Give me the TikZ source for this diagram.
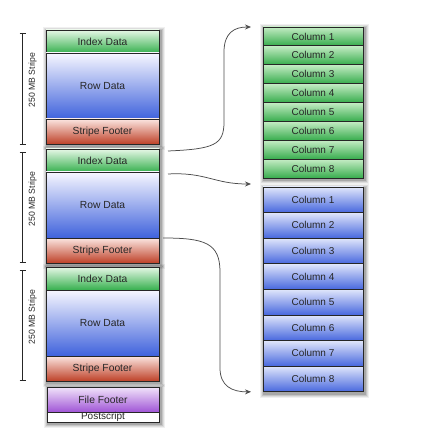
\documentclass[tikz,border=0pt]{standalone}
\usepackage{fontspec}
\setmainfont{Liberation Sans}
\usetikzlibrary{calc,arrows.meta,backgrounds}
\definecolor{idxT}{HTML}{E6F7E6}
\definecolor{idxB}{HTML}{36B04E}
\definecolor{rowT}{HTML}{F7F7FF}
\definecolor{rowB}{HTML}{3F62DC}
\definecolor{ftT}{HTML}{FBE5E0}
\definecolor{ftB}{HTML}{BE4128}
\definecolor{ffT}{HTML}{F1E4FA}
\definecolor{ffB}{HTML}{A055D6}
\definecolor{gcT}{HTML}{C4ECC4}
\definecolor{gcB}{HTML}{36AC4C}
\definecolor{bcT}{HTML}{E0E6FB}
\definecolor{bcB}{HTML}{4767DE}
\definecolor{txt}{HTML}{262626}
\newcommand\softshadow[2]{%
  \foreach \s/\o in {4/0.06,3/0.08,2/0.11,1/0.15}{%
    \fill[black,opacity=\o] ($(#1.north west)+(1-\s,1-\s)$) rectangle ($(#2.south east)+(1.5+\s,2+\s)$);
  }%
}
\begin{document}
\begin{tikzpicture}[x=1pt,y=-1pt,
  blk/.style={draw=black!85, line width=0.8pt, inner sep=0pt, outer sep=0pt,
    anchor=north west, text=txt, font=\fontsize{10.3}{12}\selectfont, minimum width=113pt},
  idxbox/.style={blk, minimum height=23pt, top color=idxT, bottom color=idxB},
  rowbox/.style={blk, minimum height=66pt, top color=rowT, bottom color=rowB},
  ftbox/.style={blk, minimum height=25pt, top color=ftT, bottom color=ftB},
  ffbox/.style={blk, minimum width=112pt, minimum height=25pt, top color=ffT, bottom color=ffB},
  psbox/.style={blk, minimum width=112pt, minimum height=10pt, fill=white, font=\fontsize{10}{10}\selectfont},
  gcol/.style={blk, minimum width=100pt, minimum height=18.9pt, top color=gcT, bottom color=gcB, font=\fontsize{10}{11}\selectfont},
  bcol/.style={blk, minimum width=100pt, minimum height=25.6pt, top color=bcT, bottom color=bcB, font=\fontsize{10}{11}\selectfont},
  brk/.style={draw=txt, line width=0.7pt},
  brklabel/.style={rotate=90, text=txt, font=\fontsize{8.7}{10}\selectfont, inner sep=0pt},
  conn/.style={draw=black!70, line width=0.75pt, -{Stealth[length=6pt,width=5pt]}}
]
\useasboundingbox (0,0) rectangle (429,435);

% left stack
\node[idxbox] (idx1) at (46,30) {Index Data};
\node[rowbox] (row1) at (idx1.south west) {Row Data};
\node[ftbox] (ft1) at (row1.south west) {Stripe Footer};
\node[idxbox] (idx2) at (46,149) {Index Data};
\node[rowbox] (row2) at (idx2.south west) {Row Data};
\node[ftbox] (ft2) at (row2.south west) {Stripe Footer};
\node[idxbox] (idx3) at (46,267) {Index Data};
\node[rowbox] (row3) at (idx3.south west) {Row Data};
\node[ftbox] (ft3) at (row3.south west) {Stripe Footer};
\node[ffbox] (ff) at (47,387) {File Footer};
\node[psbox] (ps) at (ff.south west) {Postscript};

% right stacks
\foreach \i in {1,...,8}{
  \node[gcol] (g\i) at (263,{27+(\i-1)*18.9}) {Column \i};
}
\foreach \i in {1,...,8}{
  \node[bcol] (b\i) at (263,{187+(\i-1)*25.6}) {Column \i};
}

% shadows
\begin{scope}[on background layer]
  \softshadow{idx1}{ft1}
  \softshadow{idx2}{ft2}
  \softshadow{idx3}{ft3}
  \softshadow{ff}{ps}
  \softshadow{g1}{g8}
  \softshadow{b1}{b8}
\end{scope}

% stripe brackets
\foreach \n/\t/\b/\l in {1/33/144/80, 2/152/262/199, 3/270/380/317}{
  \coordinate (s\n t) at (22.5,\t);
  \coordinate (s\n b) at (22.5,\b);
  \draw[brk] (s\n t) -- (s\n b);
  \draw[brk] ($(s\n t)+(-3,0)$) -- ($(s\n t)+(3,0)$);
  \draw[brk] ($(s\n b)+(-3,0)$) -- ($(s\n b)+(3,0)$);
  \node[brklabel] (lab\n) at (32.5,\l) {250 MB Stripe};
}

% connectors
\coordinate (a1s) at ($(idx2.north east)+(9,2)$);
\coordinate (a2s) at ($(row2.north east)+(9,2)$);
\coordinate (a3s) at ($(row2.south east)+(4,0)$);
\coordinate (a1e) at ($(g1.north west)+(-12,0)$);
\coordinate (a2e) at ($(b1.north west)+(-12,-3)$);
\coordinate (a3e) at ($(b8.south west)+(-12,0)$);
\draw[conn] (a1s) .. controls (214,149) and (224,145) .. (224,122) -- (224,52) .. controls (224,33) and (234,27) .. (a1e);
\draw[conn] (a2s) .. controls (206,172) and (214,184) .. (a2e);
\draw[conn] (a3s) .. controls (205,238) and (220,243) .. (220,272) -- (220,368) .. controls (220,386) and (232,392) .. (a3e);
\end{tikzpicture}
\end{document}
